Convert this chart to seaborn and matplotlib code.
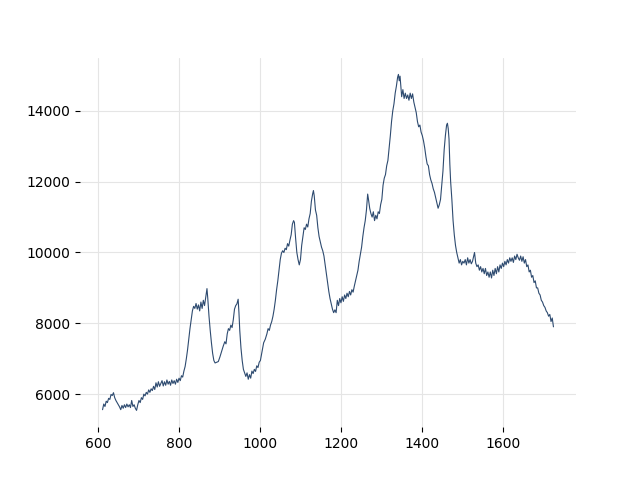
import matplotlib
matplotlib.use("Agg")
import matplotlib.pyplot as plt
import seaborn as sns
import pandas as pd

wavenumber = [
    610, 613, 616, 619, 622, 625, 628, 631, 634, 637, 640, 643, 646, 649, 652, 655, 658, 661, 664, 667,
    670, 673, 676, 679, 682, 685, 688, 691, 694, 697, 700, 703, 706, 709, 712, 715, 718, 721, 724, 727,
    730, 733, 736, 739, 742, 745, 748, 751, 754, 757, 760, 763, 766, 769, 772, 775, 778, 781, 784, 787,
    790, 793, 796, 799, 802, 805, 808, 811, 814, 817, 820, 823, 826, 829, 832, 835,
    838, 841, 844, 847, 850, 853, 856, 859, 862, 865, 868, 870, 873, 876, 879, 882, 885, 888, 892, 896,
    900, 904, 908, 912, 915, 918, 921, 924, 927, 930, 933, 936, 939, 942, 945, 947, 949, 952, 955, 958,
    961, 964, 967, 970, 973, 976, 979, 982, 985, 988, 991, 994, 997, 1000, 1004, 1008, 1012, 1016, 1019, 1022,
    1025, 1028, 1031, 1034, 1037, 1040, 1043, 1046, 1049, 1052, 1055, 1058, 1061, 1064, 1067, 1070, 1073, 1076, 1079, 1082,
    1084, 1087, 1090, 1093, 1096, 1099, 1102, 1105, 1108, 1111, 1114, 1117, 1120, 1123, 1126, 1129, 1131, 1133, 1136, 1139,
    1142, 1145, 1148, 1151, 1154, 1157, 1160, 1163, 1166, 1169, 1172, 1175, 1178, 1181, 1184, 1187, 1190, 1193, 1196, 1199,
    1202, 1205, 1208, 1211, 1214, 1217, 1220, 1223, 1226, 1229, 1232, 1235, 1238, 1241, 1244, 1247, 1250, 1253, 1256, 1259,
    1262, 1265, 1267, 1270, 1273, 1276, 1279, 1282, 1285, 1288, 1291, 1294, 1297, 1300, 1303, 1306, 1309, 1312, 1315, 1318,
    1321, 1324, 1327, 1330, 1333, 1336, 1339, 1341, 1343, 1345, 1347, 1349, 1352, 1355, 1358, 1361, 1364, 1367, 1370, 1373,
    1376, 1379, 1382, 1385, 1388, 1391, 1394, 1397, 1400, 1403, 1406, 1409, 1412, 1415, 1418, 1421, 1424, 1427, 1430, 1433,
    1436, 1439, 1442, 1445, 1448, 1451, 1454, 1457, 1460, 1462, 1464, 1466, 1468, 1470, 1473, 1476, 1479, 1482, 1485, 1488,
    1491, 1494, 1497, 1500, 1503, 1506, 1509, 1512, 1515, 1518, 1521, 1524, 1527, 1529, 1532, 1535, 1538, 1541, 1544, 1547,
    1550, 1553, 1556, 1559, 1562, 1565, 1568, 1571, 1574, 1577, 1580, 1583, 1586, 1589, 1592, 1595, 1598, 1601, 1604, 1607,
    1610, 1613, 1616, 1619, 1622, 1625, 1628, 1631, 1634, 1637, 1640, 1643, 1646, 1649, 1652, 1655, 1658, 1661, 1664, 1667,
    1670, 1673, 1676, 1679, 1682, 1685, 1688, 1691, 1694, 1697, 1700, 1703, 1706, 1709, 1712, 1715, 1718, 1721, 1724,
]

intensity = [
    5560, 5720, 5650, 5800, 5760, 5880, 5850, 5990, 5960, 6040, 5900, 5820, 5760, 5700, 5640, 5560, 5680, 5600, 5700, 5620,
    5720, 5640, 5700, 5620, 5820, 5650, 5700, 5600, 5540, 5700, 5820, 5760, 5900, 5850, 6000, 5950, 6050, 6000, 6120, 6050,
    6150, 6100, 6220, 6130, 6320, 6200, 6350, 6220, 6300, 6380, 6230, 6350, 6250, 6400, 6280, 6360, 6250, 6400, 6300, 6380,
    6280, 6420, 6330, 6450, 6380, 6520, 6480, 6650, 6780, 7000, 7250, 7550, 7850, 8100, 8350, 8480,
    8420, 8560, 8400, 8520, 8350, 8600, 8420, 8650, 8500, 8750, 8980, 8700, 8200, 7800, 7450, 7150, 6950, 6880, 6900, 6920,
    7050, 7200, 7350, 7480, 7420, 7700, 7850, 7800, 7950, 7880, 8100, 8400, 8500, 8550, 8680, 8300, 7800, 7300, 6950, 6700,
    6600, 6500, 6600, 6420, 6550, 6450, 6650, 6580, 6700, 6640, 6800, 6750, 6900, 6950, 7200, 7450, 7550, 7700, 7850, 7800,
    7950, 8050, 8200, 8400, 8650, 8950, 9200, 9500, 9800, 9980, 10050, 10000, 10120, 10080, 10250, 10180, 10350, 10500, 10800, 10900,
    10850, 10400, 10000, 9800, 9650, 9800, 10200, 10450, 10700, 10650, 10800, 10720, 10950, 11100, 11450, 11650, 11750, 11600, 11200, 11050,
    10700, 10450, 10300, 10150, 10050, 9900, 9650, 9400, 9150, 8900, 8700, 8550, 8400, 8300, 8380, 8300, 8650, 8500, 8700, 8580,
    8750, 8620, 8800, 8700, 8850, 8750, 8900, 8800, 8950, 8880, 9050, 9200, 9350, 9500, 9750, 9950, 10150, 10450, 10700, 10900,
    11200, 11650, 11500, 11250, 11100, 11000, 11150, 10900, 11050, 10950, 11150, 11100, 11350, 11500, 11900, 12100, 12200, 12450, 12600, 12950,
    13300, 13700, 14000, 14200, 14500, 14700, 14950, 15030, 14850, 14980, 14700, 14400, 14600, 14350, 14500, 14350, 14450, 14300, 14500, 14350,
    14480, 14250, 14100, 13950, 13700, 13550, 13600, 13400, 13300, 13150, 12950, 12700, 12500, 12450, 12200, 12050, 11950, 11800, 11700, 11550,
    11400, 11250, 11350, 11500, 11900, 12300, 12900, 13300, 13600, 13650, 13500, 13200, 12500, 12000, 11500, 10900, 10500, 10200, 10000, 9850,
    9700, 9800, 9650, 9750, 9700, 9800, 9650, 9850, 9700, 9800, 9680, 9750, 9900, 10000, 9700, 9600, 9650, 9500, 9600, 9450,
    9550, 9400, 9550, 9350, 9450, 9300, 9450, 9280, 9500, 9350, 9550, 9400, 9600, 9450, 9650, 9550, 9700, 9600, 9750, 9650,
    9800, 9700, 9850, 9750, 9850, 9720, 9900, 9800, 9950, 9850, 9780, 9900, 9750, 9880, 9700, 9800, 9600, 9650, 9450, 9500,
    9300, 9350, 9150, 9200, 9000, 9000, 8850, 8800, 8650, 8600, 8500, 8450, 8350, 8300, 8200, 8250, 8050, 8150, 7900,
]

df = pd.DataFrame({"wavenumber": wavenumber, "intensity": intensity})

sns.set_style("whitegrid", {
    "grid.color": "#e5e5e5",
    "axes.edgecolor": "white",
    "xtick.bottom": True,
    "ytick.left": True,
    "xtick.color": "black",
    "ytick.color": "black",
    "text.color": "black",
    "axes.labelcolor": "black",
})
plt.rcParams["font.family"] = ["DejaVu Sans"]
plt.rcParams["font.size"] = 10

fig, ax = plt.subplots(figsize=(6.4, 4.8), dpi=100)
sns.lineplot(data=df, x="wavenumber", y="intensity", ax=ax, color="#2e4b70", linewidth=0.8)
ax.set_xlabel("")
ax.set_ylabel("")
ax.tick_params(axis="both", length=3.5, width=0.8, labelsize=10)
for s in ax.spines.values():
    s.set_visible(False)
ax.set_yticks([6000, 8000, 10000, 12000, 14000])
ax.set_xticks([600, 800, 1000, 1200, 1400, 1600])
fig.savefig("out.png", dpi=100)
